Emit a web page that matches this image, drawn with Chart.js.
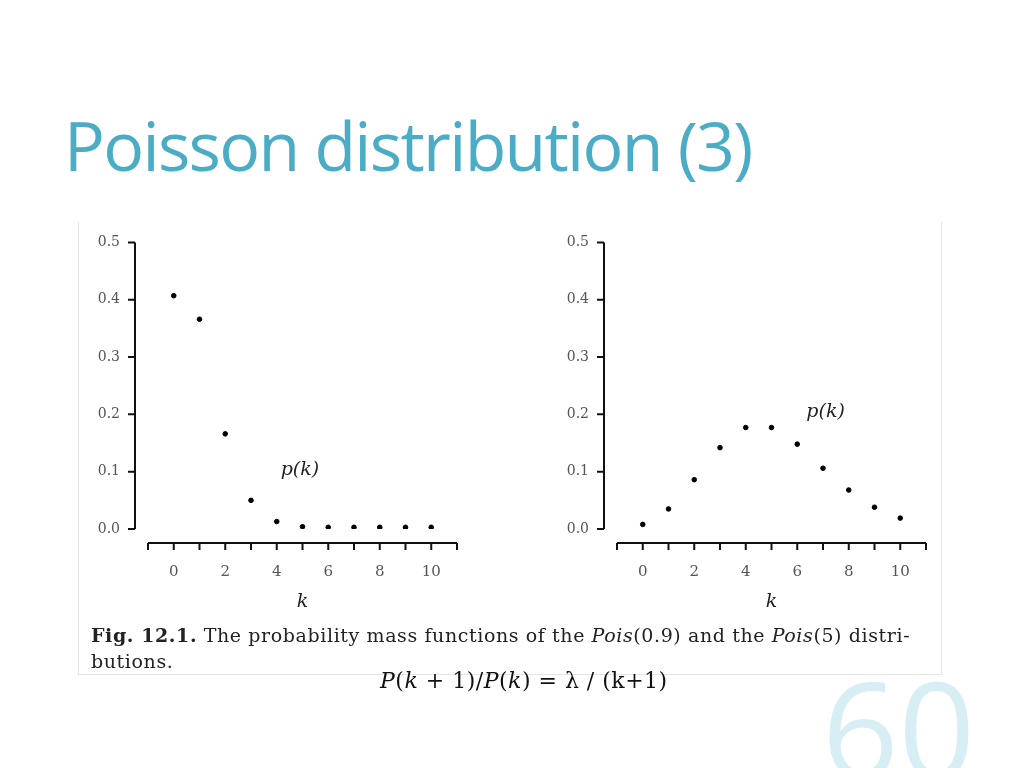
<!DOCTYPE html>
<html>
<head>
<meta charset="utf-8">
<script src="https://cdn.jsdelivr.net/npm/chart.js@4"></script>
<style>
  body { margin: 0; width: 1024px; height: 768px; background: #fff; position: relative; overflow: hidden; }
  h1 { position: absolute; left: 64px; top: 98px; margin: 0; font: 68px "Open Sans", sans-serif; letter-spacing: -1.7px; color: #4bacc6; font-weight: normal; }
  .frame { position: absolute; left: 78px; top: 222px; width: 862px; height: 452px; border: 1px solid #e4e4e4; border-top: none; }
  canvas { position: absolute; }
  .cap { position: absolute; left: 91px; top: 622px; width: 860px; font: 19px "DejaVu Serif", serif; letter-spacing: 0.6px; color: #222; line-height: 26px; }
  .cap i { font-style: italic; }
  .formula { position: absolute; left: 380px; top: 668px; font: 22px "DejaVu Serif", serif; letter-spacing: 0.5px; color: #111; }
  .num { position: absolute; left: 822px; top: 636px; font: 134px "Open Sans", sans-serif; color: #d6eef4; }
</style>
</head>
<body>
<h1>Poisson distribution (3)</h1>
<div class="frame"></div>
<canvas id="c1" width="390" height="411" style="left:80px;top:214px;width:390px;height:411px"></canvas>
<canvas id="c2" width="390" height="411" style="left:549px;top:214px;width:390px;height:411px"></canvas>
<div class="cap"><b>Fig. 12.1.</b> The probability mass functions of the <i>Pois</i>(0.9) and the <i>Pois</i>(5) distri-<br>butions.</div>
<div class="formula"><i>P</i>(<i>k</i> + 1)/<i>P</i>(<i>k</i>) = λ / (k+1)</div>
<div class="num">60</div>
<script>
// values
const kValues = [0, 1, 2, 3, 4, 5, 6, 7, 8, 9, 10];
const pois09 = [0.407, 0.366, 0.166, 0.05, 0.013, 0.004, 0.003, 0.003, 0.003, 0.003, 0.003];
const pois5 = [0.008, 0.035, 0.086, 0.142, 0.177, 0.177, 0.148, 0.106, 0.068, 0.038, 0.019];
const yTicks = [0, 0.1, 0.2, 0.3, 0.4, 0.5];
const xTickLabels = [0, 2, 4, 6, 8, 10];

// axes drawn detached from each other, like the book figure
const axesPlugin = {
  id: "bookAxes",
  afterDraw(chart, args, opts) {
    const ctx = chart.ctx;
    const x = chart.scales.x, y = chart.scales.y;
    ctx.save();
    ctx.strokeStyle = "#111";
    ctx.lineWidth = 2;
    const ax = x.getPixelForValue(-1) - 13;
    ctx.beginPath();
    ctx.moveTo(ax, y.getPixelForValue(0));
    ctx.lineTo(ax, y.getPixelForValue(0.5));
    yTicks.forEach(v => {
      ctx.moveTo(ax, y.getPixelForValue(v));
      ctx.lineTo(ax - 7, y.getPixelForValue(v));
    });
    const ay = y.getPixelForValue(0) + 14;
    ctx.moveTo(x.getPixelForValue(-1), ay);
    ctx.lineTo(x.getPixelForValue(11), ay);
    for (let k = -1; k <= 11; k++) {
      ctx.moveTo(x.getPixelForValue(k), ay);
      ctx.lineTo(x.getPixelForValue(k), ay + 7);
    }
    ctx.stroke();
    ctx.fillStyle = "#222";
    ctx.font = "italic 19px 'DejaVu Serif', serif";
    ctx.textAlign = "center";
    ctx.fillText("k", x.getPixelForValue(5), ay + 64);
    ctx.fillText("p(k)", x.getPixelForValue(opts.labelX), y.getPixelForValue(opts.labelY));
    ctx.restore();
  }
};

function makeChart(id, values, labelX, labelY) {
  return new Chart(document.getElementById(id), {
    type: "scatter",
    data: {
      datasets: [{
        data: kValues.map((k, i) => ({ x: k, y: values[i] })),
        backgroundColor: "#000",
        borderColor: "#000",
        pointRadius: 2.3
      }]
    },
    options: {
      responsive: false,
      animation: false,
      layout: { padding: { top: 6, right: 13 } },
      plugins: { legend: { display: false }, tooltip: { enabled: false }, bookAxes: { labelX, labelY } },
      scales: {
        x: {
          type: "linear", min: -1, max: 11,
          grid: { display: false }, border: { display: false },
          afterBuildTicks: s => { s.ticks = xTickLabels.map(v => ({ value: v })); },
          afterFit: s => { s.height = 96; },
          ticks: { padding: 26, color: "#555", font: { family: "DejaVu Serif", size: 15 } }
        },
        y: {
          min: 0, max: 0.5,
          grid: { display: false }, border: { display: false },
          afterBuildTicks: s => { s.ticks = yTicks.map(v => ({ value: v })); },
          afterFit: s => { s.width = 68; },
          ticks: { padding: 20, color: "#555", font: { family: "DejaVu Serif", size: 14 },
                   callback: v => v.toFixed(1) }
        }
      }
    },
    plugins: [axesPlugin]
  });
}

makeChart("c1", pois09, 4.9, 0.095);
makeChart("c2", pois5, 7.1, 0.195);
</script>
</body>
</html>
